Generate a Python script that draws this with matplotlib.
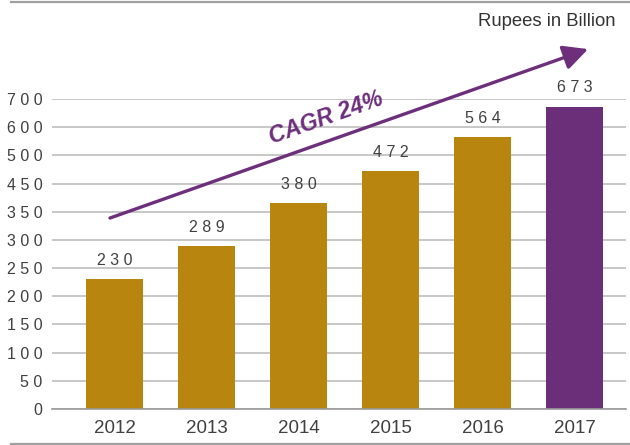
import numpy as np
import matplotlib
matplotlib.use("Agg")
import matplotlib.pyplot as plt
from matplotlib.lines import Line2D

plt.rcParams['font.family'] = ['Liberation Sans', 'DejaVu Sans']

# Data
years = ['2012', '2013', '2014', '2015', '2016', '2017']
values = [230, 289, 380, 472, 564, 673]
bar_colors = ['#b8860f'] * 5 + ['#6a2f78']

# Axis labels as printed on the chart (unevenly stepped, evenly spaced)
tick_values = [0, 50, 100, 150, 200, 250, 300, 350, 450, 500, 600, 700]
tick_pos = np.arange(len(tick_values), dtype=float)


def forward(v):
    return np.interp(v, tick_values, tick_pos)


def inverse(p):
    return np.interp(p, tick_pos, tick_values)


fig = plt.figure(figsize=(6.3, 4.45), dpi=100)
ax = fig.add_axes([52 / 630, 1 - 409 / 445, 574 / 630, 310 / 445])

ax.set_yscale('function', functions=(forward, inverse))
x = np.arange(len(years))
ax.bar(x, values, width=0.62, color=bar_colors, zorder=2)

ax.set_xlim(-0.68, 5.56)
ax.set_ylim(0, 700)

ax.set_yticks(tick_values)
ax.set_yticklabels([' '.join(str(t)) for t in tick_values])
ax.set_xticks(x)
ax.set_xticklabels(years)
ax.tick_params(axis='y', length=0, pad=7, labelsize=11.5, labelcolor='#404040')
ax.tick_params(axis='x', length=0, pad=8, labelsize=13.5, labelcolor='#404040')

ax.yaxis.grid(True, color='#b8b8b8', linewidth=1.1, zorder=0)
ax.set_axisbelow(True)
for side in ['top', 'right', 'left']:
    ax.spines[side].set_visible(False)
ax.spines['bottom'].set_color('#9a9a9a')
ax.spines['bottom'].set_linewidth(1.2)

# value labels above bars
for xi, v in zip(x, values):
    ax.annotate(' '.join(str(v)), (xi, v), xytext=(0, 8), textcoords='offset points',
                ha='center', va='bottom', fontsize=11.5, color='#404040')

# growth arrow and label
ax.annotate('', xy=(0.934, 1.161), xytext=(0.101, 0.616), xycoords='axes fraction',
            textcoords='axes fraction', annotation_clip=False,
            arrowprops=dict(arrowstyle='-|>,head_length=1.5,head_width=0.75',
                            color='#6d2f7c', lw=2.4, shrinkA=0, shrinkB=0))
ax.text(0.477, 0.939, 'CAGR 24%', transform=ax.transAxes, rotation=19.5,
        ha='center', va='center', fontsize=16.5, fontweight='bold', fontstyle='italic',
        color='#6d2f7c', rotation_mode='anchor')

fig.text(616 / 630, 1 - 22 / 445, 'Rupees in Billion', ha='right', va='center',
         fontsize=13.3, color='#333333')

# thin rules at top and bottom of the figure
for yy in [1 - 1.5 / 445, 1.5 / 445]:
    fig.add_artist(Line2D([11 / 630, 1], [yy, yy], transform=fig.transFigure,
                          color='#a0a0a0', linewidth=1.6))

fig.savefig('out.png', dpi=100)
